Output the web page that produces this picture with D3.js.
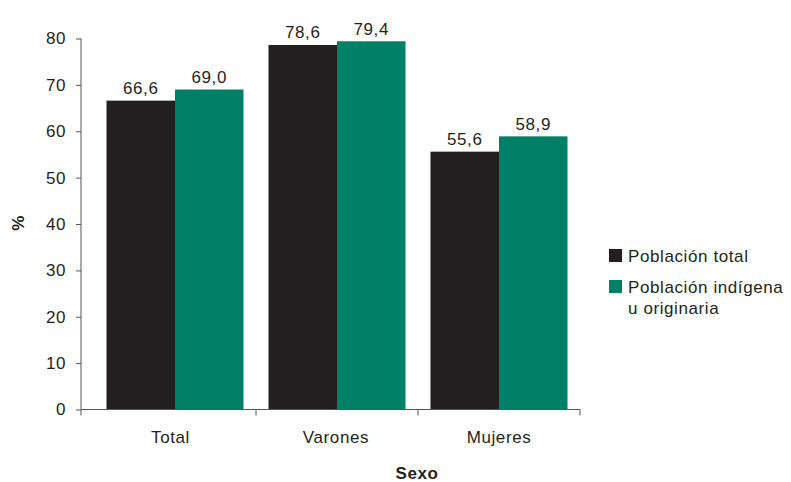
<!DOCTYPE html>
<html><head><meta charset="utf-8">
<script src="https://cdn.jsdelivr.net/npm/d3@7"></script>
<style>body{margin:0;background:#fff}svg{display:block}text{font-family:"Liberation Sans",Arial,sans-serif;fill:#231f20;letter-spacing:0.6px}</style>
</head><body><svg id="c" width="791" height="482"></svg>
<script>
const categories = ["Total", "Varones", "Mujeres"];
const seriesNames = ["Población total", "Población indígena u originaria"];
const poblacionTotal = [66.6, 78.6, 55.6];
const poblacionIndigena = [69.0, 79.4, 58.9];
const yTicks = [0, 10, 20, 30, 40, 50, 60, 70, 80];
const colors = ["#231f20", "#008066"];
const FS = 17;

const svg = d3.select("#c");
const x = d3.scaleBand().domain(categories).range([94, 580]).paddingInner(0).paddingOuter(0);
const y = d3.scaleLinear().domain([0, 80]).range([409.5, 38.5]);
const sub = d3.scaleBand().domain([0, 1]).range([0, x.bandwidth()]).paddingInner(0).paddingOuter(0.1825);
const axisColor = "#555";

// y axis
const yAxis = svg.append("g").attr("transform", "translate(81,0)")
  .call(d3.axisLeft(y).tickValues(yTicks).tickSize(5).tickPadding(10).tickFormat(d3.format("d")));
yAxis.select(".domain").attr("stroke", axisColor).attr("d", `M0,${y(80)}V${y(0)}`);
yAxis.selectAll(".tick line").attr("stroke", axisColor);
yAxis.selectAll(".tick text").attr("font-size", FS).attr("fill", "#231f20").attr("font-family", "Liberation Sans, Arial, sans-serif");

// bars
const data = categories.map((c, i) => ({c, vals: [poblacionTotal[i], poblacionIndigena[i]]}));
const g = svg.append("g");
data.forEach(d => {
  d.vals.forEach((v, k) => {
    g.append("rect").attr("x", x(d.c) + sub(k)).attr("width", sub.bandwidth())
      .attr("y", y(v)).attr("height", y(0) - y(v)).attr("fill", colors[k]);
    g.append("text").attr("x", x(d.c) + sub(k) + sub.bandwidth() / 2).attr("y", y(v) - 6.5)
      .attr("text-anchor", "middle").attr("font-size", FS).text(d3.format(".1f")(v).replace(".", ","));
  });
});

// x axis
const xg = svg.append("g").attr("transform", `translate(0,${y(0)})`);
xg.append("line").attr("x1", 81).attr("x2", 580).attr("stroke", axisColor).attr("stroke-width", 1);
const xTicks = [81].concat(categories.map(c => x(c) + x.bandwidth()));
xg.selectAll("line.t").data(xTicks).enter().append("line").attr("class", "t")
  .attr("x1", d => d).attr("x2", d => d).attr("y1", 0).attr("y2", 6).attr("stroke", axisColor);
const labelShift = [-4.5, -1, 0];
xg.selectAll("text").data(categories).enter().append("text")
  .attr("x", (d, i) => x(d) + x.bandwidth() / 2 + labelShift[i]).attr("y", 33.5)
  .attr("text-anchor", "middle").attr("font-size", FS).text(d => d);

// axis titles
svg.append("text").attr("x", 417).attr("y", 479).attr("text-anchor", "middle")
  .attr("font-size", FS).attr("font-weight", "bold").text("Sexo");
svg.append("text").attr("transform", "translate(24,223) rotate(-90)").attr("text-anchor", "middle")
  .attr("font-size", FS).attr("font-weight", "bold").text("%");

// legend
const leg = svg.append("g");
leg.append("rect").attr("x", 609).attr("y", 249).attr("width", 13).attr("height", 13).attr("fill", colors[0]);
leg.append("text").attr("x", 628).attr("y", 262).attr("font-size", FS).text(seriesNames[0]);
leg.append("rect").attr("x", 609).attr("y", 280).attr("width", 13).attr("height", 13).attr("fill", colors[1]);
const t2 = leg.append("text").attr("x", 628).attr("y", 293).attr("font-size", FS);
t2.append("tspan").attr("x", 628).text("Población indígena");
t2.append("tspan").attr("x", 628).attr("dy", 21).text("u originaria");
</script></body></html>
